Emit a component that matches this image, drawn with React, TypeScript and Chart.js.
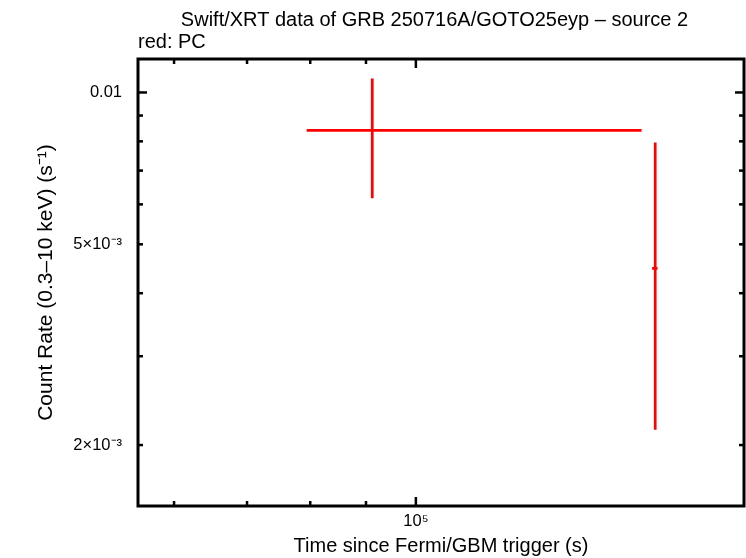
import { useEffect, useRef } from "react";
import { Chart, registerables } from "chart.js";

Chart.register(...registerables);

// ---- data ----
const times = [91200, 165800];
const timeLo = [79400, 164700];
const timeHi = [161100, 166600];
const rates = [0.00841, 0.00448];
const rateLo = [0.00617, 0.002145];
const rateHi = [0.01066, 0.00796];

const xTicks = [60000, 70000, 80000, 90000, 100000];
const xTickLabels = ["", "", "", "", "10⁵"];
const yTicks = [0.002, 0.003, 0.004, 0.005, 0.006, 0.007, 0.008, 0.009, 0.01];
const yTickLabels = ["2×10⁻³", "", "", "5×10⁻³", "", "", "", "", "0.01"];
const xRange = [55600, 200000];
const yRange = [0.0015143, 0.01165];

const titleText = "Swift/XRT data of GRB 250716A/GOTO25eyp – source 2";
const subtitleText = "red: PC";
const xTitle = "Time since Fermi/GBM trigger (s)";
const yTitle = "Count Rate (0.3–10 keV) (s⁻¹)";

const FONT = "'Liberation Sans', Arial, Helvetica, sans-serif";
const RED = "#ff0000";

const isDecade = (v: number) => {
  const l = Math.log10(v);
  return Math.abs(l - Math.round(l)) < 1e-6;
};

const framePlugin = {
  id: "frameTicks",
  afterDatasetsDraw(chart: any) {
    const { ctx, chartArea: a, scales } = chart;
    ctx.save();
    ctx.strokeStyle = "#000";
    ctx.lineWidth = 2.5;
    const seg = (x1: number, y1: number, x2: number, y2: number) => {
      ctx.beginPath();
      ctx.moveTo(x1, y1);
      ctx.lineTo(x2, y2);
      ctx.stroke();
    };
    scales.x.ticks.forEach((t: any) => {
      const px = scales.x.getPixelForValue(t.value);
      const len = isDecade(t.value) ? 9 : 5;
      seg(px, a.bottom, px, a.bottom - len);
      seg(px, a.top, px, a.top + len);
    });
    scales.y.ticks.forEach((t: any) => {
      const py = scales.y.getPixelForValue(t.value);
      const len = isDecade(t.value) ? 9 : 5;
      seg(a.left, py, a.left + len, py);
      seg(a.right, py, a.right - len, py);
    });
    ctx.lineWidth = 3;
    ctx.strokeRect(a.left, a.top, a.right - a.left, a.bottom - a.top);
    ctx.restore();
  },
  afterDraw(chart: any) {
    const { ctx } = chart;
    ctx.save();
    ctx.fillStyle = "#000";
    ctx.font = `20px ${FONT}`;
    ctx.textBaseline = "middle";
    ctx.textAlign = "center";
    ctx.fillText(titleText, 434.5, 20);
    ctx.textAlign = "left";
    ctx.fillText(subtitleText, 138, 42);
    ctx.restore();
  },
};

export default function App() {
  const ref = useRef<HTMLCanvasElement | null>(null);

  useEffect(() => {
    if (!ref.current) return;
    const datasets: any[] = [];
    times.forEach((t, i) => {
      datasets.push({
        data: [
          { x: timeLo[i], y: rates[i] },
          { x: timeHi[i], y: rates[i] },
        ],
        showLine: true,
        borderColor: RED,
        backgroundColor: RED,
        borderWidth: 2.7,
        pointRadius: 0,
      });
      datasets.push({
        data: [
          { x: t, y: rateLo[i] },
          { x: t, y: rateHi[i] },
        ],
        showLine: true,
        borderColor: RED,
        backgroundColor: RED,
        borderWidth: 2.7,
        pointRadius: 0,
      });
    });

    const chart = new Chart(ref.current, {
      type: "scatter",
      data: { datasets },
      options: {
        responsive: false,
        animation: false,
        devicePixelRatio: 1,
        layout: { padding: { top: 59, right: 2, left: 0, bottom: 0 } },
        plugins: {
          legend: { display: false },
          tooltip: { enabled: false },
          title: { display: false },
        },
        scales: {
          x: {
            type: "logarithmic",
            position: "bottom",
            min: xRange[0],
            max: xRange[1],
            afterBuildTicks: (s: any) => {
              s.ticks = xTicks.map((v) => ({ value: v }));
            },
            afterFit: (s: any) => {
              s.height = 52;
            },
            grid: { display: false, drawTicks: false },
            border: { display: false },
            ticks: {
              autoSkip: false,
              maxRotation: 0,
              padding: 6,
              color: "#000",
              font: { family: FONT, size: 16.5 },
              callback: (_v: any, i: number) => xTickLabels[i],
            },
            title: {
              display: true,
              text: xTitle,
              color: "#000",
              font: { family: FONT, size: 20 },
              padding: { top: 0, bottom: 0 },
            },
          },
          y: {
            type: "logarithmic",
            position: "left",
            min: yRange[0],
            max: yRange[1],
            afterBuildTicks: (s: any) => {
              s.ticks = yTicks.map((v) => ({ value: v }));
            },
            afterFit: (s: any) => {
              s.width = 138;
            },
            grid: { display: false, drawTicks: false },
            border: { display: false },
            ticks: {
              autoSkip: false,
              padding: 16,
              color: "#000",
              font: { family: FONT, size: 16.5 },
              callback: (_v: any, i: number) => yTickLabels[i],
            },
            title: {
              display: true,
              text: yTitle,
              color: "#000",
              font: { family: FONT, size: 21 },
              padding: { top: 34, bottom: 0 },
            },
          },
        },
      },
      plugins: [framePlugin],
    });
    return () => chart.destroy();
  }, []);

  return (
    <div style={{ position: "absolute", left: 0, top: 0, width: 746, height: 558, background: "#fff" }}>
      <canvas ref={ref} width={746} height={558} style={{ display: "block" }} />
    </div>
  );
}
